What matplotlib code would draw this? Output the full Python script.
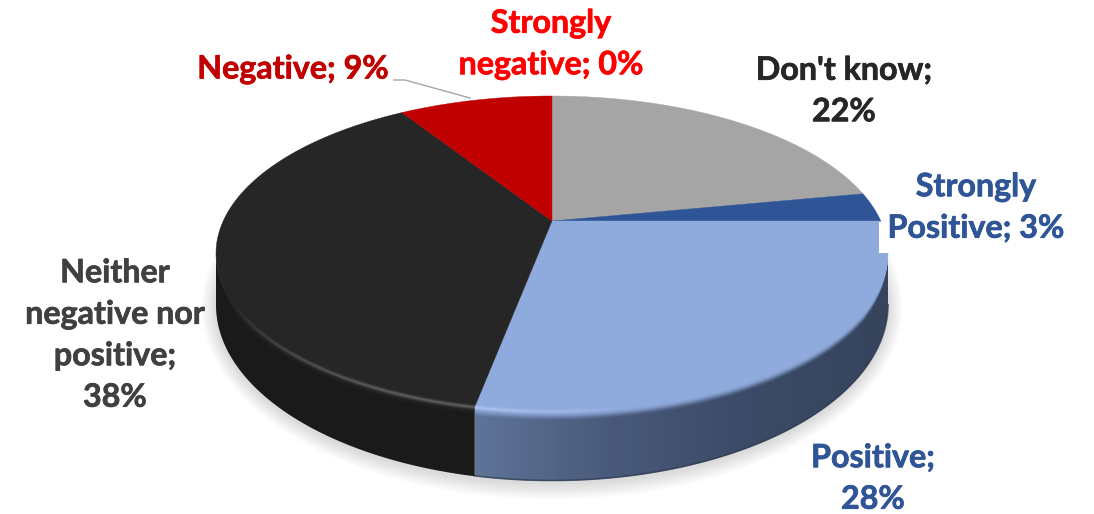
import matplotlib
matplotlib.use('Agg')
import matplotlib.pyplot as plt
import matplotlib.patheffects as pe
import numpy as np
from matplotlib.collections import LineCollection
from matplotlib.colors import LinearSegmentedColormap
from matplotlib.patches import Ellipse, Polygon, Rectangle

# Slices, clockwise from 12 o'clock
categories = ["Don't know", 'Strongly Positive', 'Positive',
              'Neither negative nor positive', 'Negative', 'Strongly negative']
values = [22, 3, 28, 38, 9, 0]
labels = ["Don't know;\n22%", 'Strongly\nPositive; 3%', 'Positive;\n28%',
          'Neither\nnegative nor\npositive;\n38%', 'Negative; 9%', 'Strongly\nnegative; 0%']

slice_colors = ['#a5a5a5', '#2f5597', '#8faadc', '#262626', '#c00000', '#ff0000']
label_colors = ['#262626', '#2f5597', '#2f5597', '#404040', '#c00000', '#ff0000']
label_xy = [(844, 91), (976, 207.5), (873, 478.5), (115, 335), (293, 69), (551, 44)]

# Top face is a circle seen in perspective, so the apex sits above the ellipse centre
CX, APEX_Y = 552, 221
TOP_CY, TOP_RX, TOP_RY = 252, 336, 156
BOT_CY, BOT_RX, BOT_RY = 305, 336, 176
K = 65 / 315
A = 125 * (1 + K)
B = TOP_RX * np.sqrt(1 - K ** 2)


def project(deg):
    t = np.radians(deg)
    d = 1 + K * np.cos(t)
    return CX + B * np.sin(t) / d, APEX_Y - A * np.cos(t) / d


def bottom_y(x):
    dx = np.clip((x - CX) / BOT_RX, -1, 1)
    return BOT_CY + BOT_RY * np.sqrt(1 - dx ** 2)


fig = plt.figure(figsize=(10.94, 5.14), dpi=100)
ax = fig.add_axes([0, 0, 1, 1])

# Soft shadow under the pie
for grow in np.arange(24, 0, -2):
    ax.add_patch(Ellipse((CX, BOT_CY + 2), 2 * (BOT_RX + grow * 0.6), 2 * (BOT_RY + grow * 0.7),
                         fc='black', ec='none', alpha=0.011, zorder=1))

side_cmap = LinearSegmentedColormap.from_list('side', ['#5f7498', '#49597a', '#3b4a66', '#36445c'])

edges = np.concatenate([[0], np.cumsum(values)]) * 3.6
for i in range(len(values)):
    if values[i] == 0:
        continue
    th = np.linspace(edges[i], edges[i + 1], 600)
    x, y = project(th)
    ax.fill(np.r_[CX, x], np.r_[APEX_Y, y], color=slice_colors[i], lw=0.3, zorder=4)

    # Wall below the front part of the rim
    front = y >= TOP_CY
    if not front.any():
        continue
    xf, yf = x[front], y[front]
    wall = Polygon(np.c_[np.r_[xf, xf[::-1]], np.r_[yf, bottom_y(xf)[::-1]]],
                   closed=True, fc='#1a1a1a', ec='none', zorder=2)
    ax.add_patch(wall)
    if categories[i] == 'Positive':
        wall.set_facecolor('none')
        im = ax.imshow(np.linspace(0, 1, 256)[None, :], cmap=side_cmap, aspect='auto',
                       extent=(xf.min(), xf.max(), 514, 0), zorder=2)
        im.set_clip_path(wall)
        ax.plot(xf, bottom_y(xf) - 0.5, color='#2f3b50', lw=1.2, alpha=0.7, zorder=3)

    # Bevel: face colour bleeding down over the wall, then a soft highlight on the rim
    for off, alpha in zip([9, 8, 7, 6, 5, 4, 3, 2, 1], [0.08, 0.14, 0.2, 0.28, 0.36, 0.46, 0.58, 0.72, 0.85]):
        scale = np.clip((yf - TOP_CY) / 60, 0.15, 1)
        ax.fill(np.r_[xf, xf[::-1]], np.r_[yf, (yf + off * scale)[::-1]],
                color=slice_colors[i], alpha=alpha, lw=0, zorder=3)
    pts = np.c_[xf, yf + 0.5]
    segs = np.stack([pts[:-1], pts[1:]], axis=1)
    fade = np.clip((yf[:-1] - (TOP_CY + 50)) / 90, 0, 1)
    if categories[i] == 'Positive':
        fade = np.clip((xf[:-1] - 640) / -160, 0, 1)
        rim = '#b4ccf6'
    else:
        rim = '#6e6e6e'
    rgba = np.tile(matplotlib.colors.to_rgba(rim), (len(segs), 1))
    for lw, strength in [(4.0, 0.2), (2.4, 0.35), (1.2, 0.5)]:
        rgba[:, 3] = fade * strength
        ax.add_collection(LineCollection(segs, colors=rgba.copy(), linewidths=lw, zorder=5))

# White label background cuts a notch out of the pie on the right
ax.add_patch(Rectangle((879, 222), 195, 31, fc='white', ec='none', zorder=6))

# Leader line for the Negative label
ax.plot([394, 405, 470], [80, 80, 98], color='#a6a6a6', lw=1, zorder=6)

for i in range(len(labels)):
    ax.text(label_xy[i][0], label_xy[i][1], labels[i], color=label_colors[i], family='Lato',
            fontsize=23.2, fontweight='bold', ha='center', va='center', multialignment='center',
            linespacing=1.52, zorder=7,
            path_effects=[pe.withStroke(linewidth=0.5, foreground=label_colors[i])])

ax.set_xlim(0, 1094)
ax.set_ylim(514, 0)
ax.axis('off')

fig.savefig('out.png', dpi=100)
